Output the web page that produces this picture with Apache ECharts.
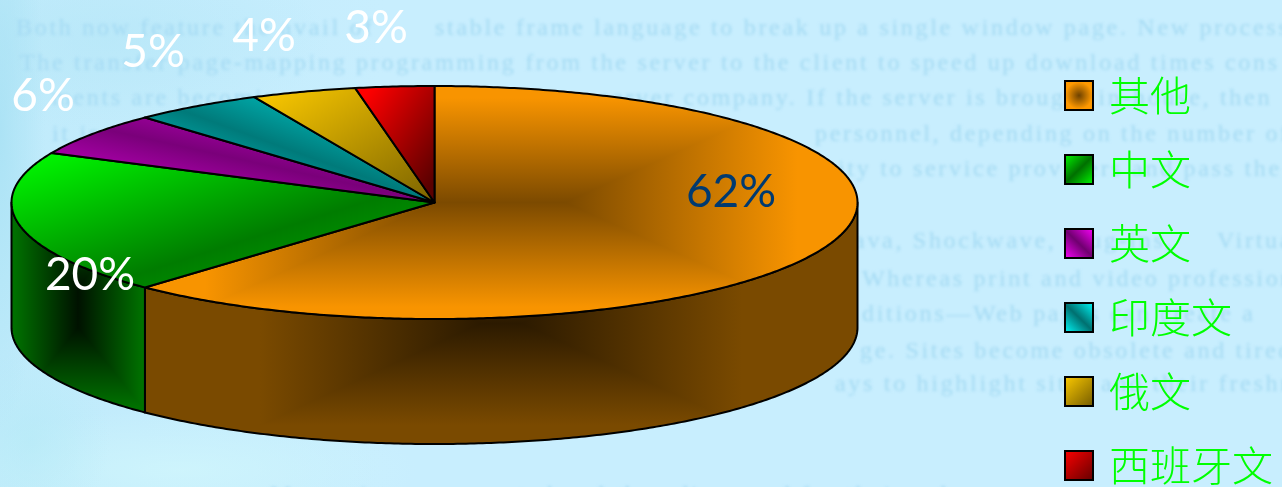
<!DOCTYPE html>
<html>
<head>
<meta charset="utf-8">
<style>
  html, body { margin: 0; padding: 0; width: 1282px; height: 487px; overflow: hidden; background: #c8eefe; }
  #wash { position: absolute; inset: 0; background:
    radial-gradient(ellipse 45px 300px at 0px 130px, rgba(165,224,243,0.75), rgba(165,224,243,0) 100%),
    radial-gradient(ellipse 220px 90px at 110px 40px, rgba(180,230,247,0.6), rgba(180,230,247,0) 100%),
    radial-gradient(ellipse 80px 90px at 30px 440px, rgba(180,234,246,0.6), rgba(180,234,246,0) 100%),
    radial-gradient(ellipse 240px 60px at 180px 470px, rgba(208,246,252,0.8), rgba(208,246,252,0) 100%),
    linear-gradient(90deg, #c0ebfb 0%, #c8eefe 30%, #c8eefe 100%); }
  #page-text { position: absolute; inset: 0; filter: blur(1.8px); color: #a4daf3;
    font-family: "Liberation Serif", serif; font-size: 24px; white-space: nowrap; }
  #page-text div { position: absolute; letter-spacing: 2.7px; transform: translateY(-50%); }
  #chart { position: absolute; left: 0; top: 0; width: 1282px; height: 487px; }
</style>
</head>
<body>
<div id="wash"></div>
<div id="page-text"></div>
<div id="chart"></div>
<script src="https://cdn.jsdelivr.net/npm/echarts@6/dist/echarts.min.js"></script>
<script>
// Share of pages by language, clockwise from twelve o'clock.
const categories = ['其他', '中文', '英文', '印度文', '俄文', '西班牙文'];
const shares = [62, 20, 6, 5, 4, 3];

// Body copy that sits faintly behind the chart: left, middle line, words.
const pageLines = [
  [16, 27, 'Both now feature the avail of'],
  [435, 27, 'stable frame language to break up a single window page. New process'],
  [20, 62, 'The transfer page-mapping programming from the server to the client to speed up download times cons'],
  [52, 97, 'ments are becoming'],
  [600, 97, 'server company. If the server is brought in-house, then'],
  [52, 133, 'it is costly'],
  [815, 133, 'personnel, depending on the number of'],
  [838, 168, 'ity to service providers and pass the cost'],
  [842, 240, 'Java, Shockwave, plug-ins,'],
  [1217, 240, 'Virtual'],
  [862, 278, 'Whereas print and video professionals'],
  [862, 313, 'ditions—Web pages can create a'],
  [860, 350, 'ge. Sites become obsolete and tired'],
  [835, 383, 'ays to highlight sites and their freshness'],
  [270, 494, 'Many pieces are posted and then discussed for their value']
];

// Pie geometry in page pixels.
const pie = { cx: 434.5, cy: 202.5, rx: 423, ry: 116.5, depth: 125 };

// Where each percentage sits (centre of the text) and its colour.
const labelSpots = [[731, 192, '#003a70'], [90, 275, '#fff'], [43, 96, '#fff'], [153, 52, '#fff'], [264, 36, '#fff'], [376, 28, '#fff']];

// Shading of each slice's top face; walls exist only on the two front slices.
const topPaint = [
  { kind: 'box', stops: ['#7c4a00', '#f89400'], offs: [0, 0.9], size: [64, 0, 322, 116] },
  { kind: 'linear', dir: 'down', stops: ['#00ff00', '#007c00', '#00b000'], offs: [0, 0.6, 1] },
  { kind: 'linear', dir: 'up', stops: ['#e000e0', '#7a007a', '#e000e0'], offs: [0, 0.5, 1] },
  { kind: 'linear', dir: 'up', stops: ['#00e8e8', '#007a7a', '#00e8e8'], offs: [0, 0.5, 1] },
  { kind: 'linear', dir: 'down', stops: ['#ffcc00', '#7a6200'], offs: [0, 1] },
  { kind: 'linear', dir: 'down', stops: ['#ff0000', '#5a0000'], offs: [0.1, 0.9] }
];
const wallPaint = [
  { stops: ['#2c1a00', '#7a4a00'], offs: [0, 0.85], size: [20, 0, 280, 120] },
  { stops: ['#001200', '#007000'], offs: [0, 0.95], size: [0, 20, 67, 103] }
];

const legendFills = [
  { type: 'radial', x: 0.5, y: 0.5, r: 0.6, colorStops: [{ offset: 0, color: '#6e4200' }, { offset: 0.75, color: '#ff9900' }] },
  { type: 'linear', x: 0, y: 0, x2: 1, y2: 1, colorStops: [{ offset: 0, color: '#00ff00' }, { offset: 0.5, color: '#007000' }, { offset: 1, color: '#00ff00' }] },
  { type: 'linear', x: 1, y: 0, x2: 0, y2: 1, colorStops: [{ offset: 0, color: '#ff00ff' }, { offset: 0.5, color: '#700070' }, { offset: 1, color: '#ff00ff' }] },
  { type: 'linear', x: 1, y: 0, x2: 0, y2: 1, colorStops: [{ offset: 0, color: '#00ffff' }, { offset: 0.5, color: '#007070' }, { offset: 1, color: '#00ffff' }] },
  { type: 'linear', x: 0, y: 0, x2: 1, y2: 1, colorStops: [{ offset: 0, color: '#ffcc00' }, { offset: 1, color: '#705800' }] },
  { type: 'linear', x: 0, y: 0, x2: 1, y2: 1, colorStops: [{ offset: 0, color: '#ff0000' }, { offset: 1, color: '#600000' }] }
];

const pageText = document.getElementById('page-text');
pageLines.forEach(([x, y, words]) => {
  const line = document.createElement('div');
  line.style.left = x + 'px';
  line.style.top = y + 'px';
  line.textContent = words;
  pageText.appendChild(line);
});

const total = shares.reduce((a, b) => a + b, 0);
const sweep = v => v / total * Math.PI * 2;

function rim(t, dy) {
  return [pie.cx + pie.rx * Math.sin(t), pie.cy - pie.ry * Math.cos(t) + (dy || 0)];
}
function arc(a, b, dy) {
  const n = Math.max(2, Math.ceil(Math.abs(b - a) / 0.01));
  const pts = [];
  for (let i = 0; i <= n; i++) pts.push(rim(a + (b - a) * i / n, dy));
  return pts;
}
function boxOf(pts) {
  const xs = pts.map(p => p[0]), ys = pts.map(p => p[1]);
  return { x0: Math.min(...xs), x1: Math.max(...xs), y0: Math.min(...ys), y1: Math.max(...ys) };
}
function colorStops(p) {
  return p.stops.map((c, i) => ({ offset: p.offs[i], color: c }));
}
function band(x, y, x2, y2, paint) {
  return { type: 'linear', global: true, x, y, x2, y2, colorStops: colorStops(paint) };
}

// Box-shaped shading that darkens toward the middle of the region, clipped to
// the slice. Left and right halves go down first, top and bottom wedges over
// them, so the joins along the diagonals stay seamless.
function boxFill(pts, paint) {
  const box = boxOf(pts);
  const cx = (box.x0 + box.x1) / 2, cy = (box.y0 + box.y1) / 2;
  const [cw, ch, W, H] = paint.size;
  const last = paint.stops[paint.stops.length - 1];
  const rect = (points, fill) => ({ type: 'polygon', shape: { points }, style: { fill } });
  return {
    type: 'group', silent: true,
    clipPath: { type: 'polygon', shape: { points: pts } },
    children: [
      rect(pts, last),
      rect([[cx - W, cy - H], [cx + 1, cy - H], [cx + 1, cy + H], [cx - W, cy + H]], band(cx - cw, 0, cx - W, 0, paint)),
      rect([[cx + W, cy - H], [cx - 1, cy - H], [cx - 1, cy + H], [cx + W, cy + H]], band(cx + cw, 0, cx + W, 0, paint)),
      rect([[cx - W, cy - H], [cx + W, cy - H], [cx + cw, cy - ch], [cx - cw, cy - ch]], band(0, cy - ch, 0, cy - H, paint)),
      rect([[cx - W, cy + H], [cx + W, cy + H], [cx + cw, cy + ch], [cx - cw, cy + ch]], band(0, cy + ch, 0, cy + H, paint))
    ]
  };
}

// Diagonal shading whose contour lines follow the other diagonal of the box.
function diagonalFill(pts, paint) {
  const box = boxOf(pts);
  const w = box.x1 - box.x0, h = box.y1 - box.y0;
  const mx = (box.x0 + box.x1) / 2, my = (box.y0 + box.y1) / 2;
  const sy = paint.dir === 'down' ? 1 : -1;
  const nx = h, ny = sy * w;
  const s = w * h / (nx * nx + ny * ny);
  return {
    type: 'polygon', silent: true,
    shape: { points: pts },
    style: { fill: band(mx - nx * s, my - ny * s, mx + nx * s, my + ny * s, paint) }
  };
}

function outline(pts) {
  return {
    type: 'polygon', silent: true,
    shape: { points: pts },
    style: { fill: 'none', stroke: '#000', lineWidth: 2, lineJoin: 'round' }
  };
}

function drawSlice(i, value) {
  let before = 0;
  for (let j = 0; j < i; j++) before += shares[j];
  const a = sweep(before), b = a + sweep(value);
  const children = [];

  // Visible wall: the part of the rim on the front half of the ellipse.
  const fa = Math.max(a, Math.PI / 2), fb = Math.min(b, Math.PI * 1.5);
  if (fb > fa) {
    const wall = arc(fa, fb, 0).concat(arc(fb, fa, pie.depth));
    children.push(boxFill(wall, wallPaint[i]));
    children.push(outline(wall));
  }

  // Top face.
  const face = [[pie.cx, pie.cy]].concat(arc(a, b, 0));
  const paint = topPaint[i];
  children.push(paint.kind === 'box' ? boxFill(face, paint) : diagonalFill(face, paint));
  children.push(outline(face));

  // Percentage text.
  const spot = labelSpots[i];
  children.push({
    type: 'text', silent: true, x: spot[0], y: spot[1],
    style: {
      text: value + '%', fill: spot[2], align: 'center', verticalAlign: 'middle',
      font: '46px Lato, sans-serif'
    }
  });
  return { type: 'group', children };
}

const chart = echarts.init(document.getElementById('chart'));
chart.setOption({
  backgroundColor: 'transparent',
  animation: false,
  legend: {
    orient: 'vertical',
    left: 1064,
    top: 75,
    width: 218,
    height: 412,
    padding: 0,
    icon: 'rect',
    itemWidth: 28,
    itemHeight: 29,
    itemGap: 33,
    selectedMode: false,
    data: categories.map((name, i) => ({
      name,
      itemStyle: { color: legendFills[i], borderColor: '#000', borderWidth: 2 }
    })),
    textStyle: {
      color: '#00ff00', fontSize: 41,
      fontFamily: '"Noto Sans CJK SC", sans-serif', fontWeight: 300,
      padding: [0, 0, 0, 11]
    }
  },
  series: categories.map((name, i) => ({
    type: 'custom',
    name,
    coordinateSystem: 'none',
    silent: true,
    data: [shares[i]],
    renderItem: (params, api) => drawSlice(i, api.value(0))
  }))
});
</script>
</body>
</html>
